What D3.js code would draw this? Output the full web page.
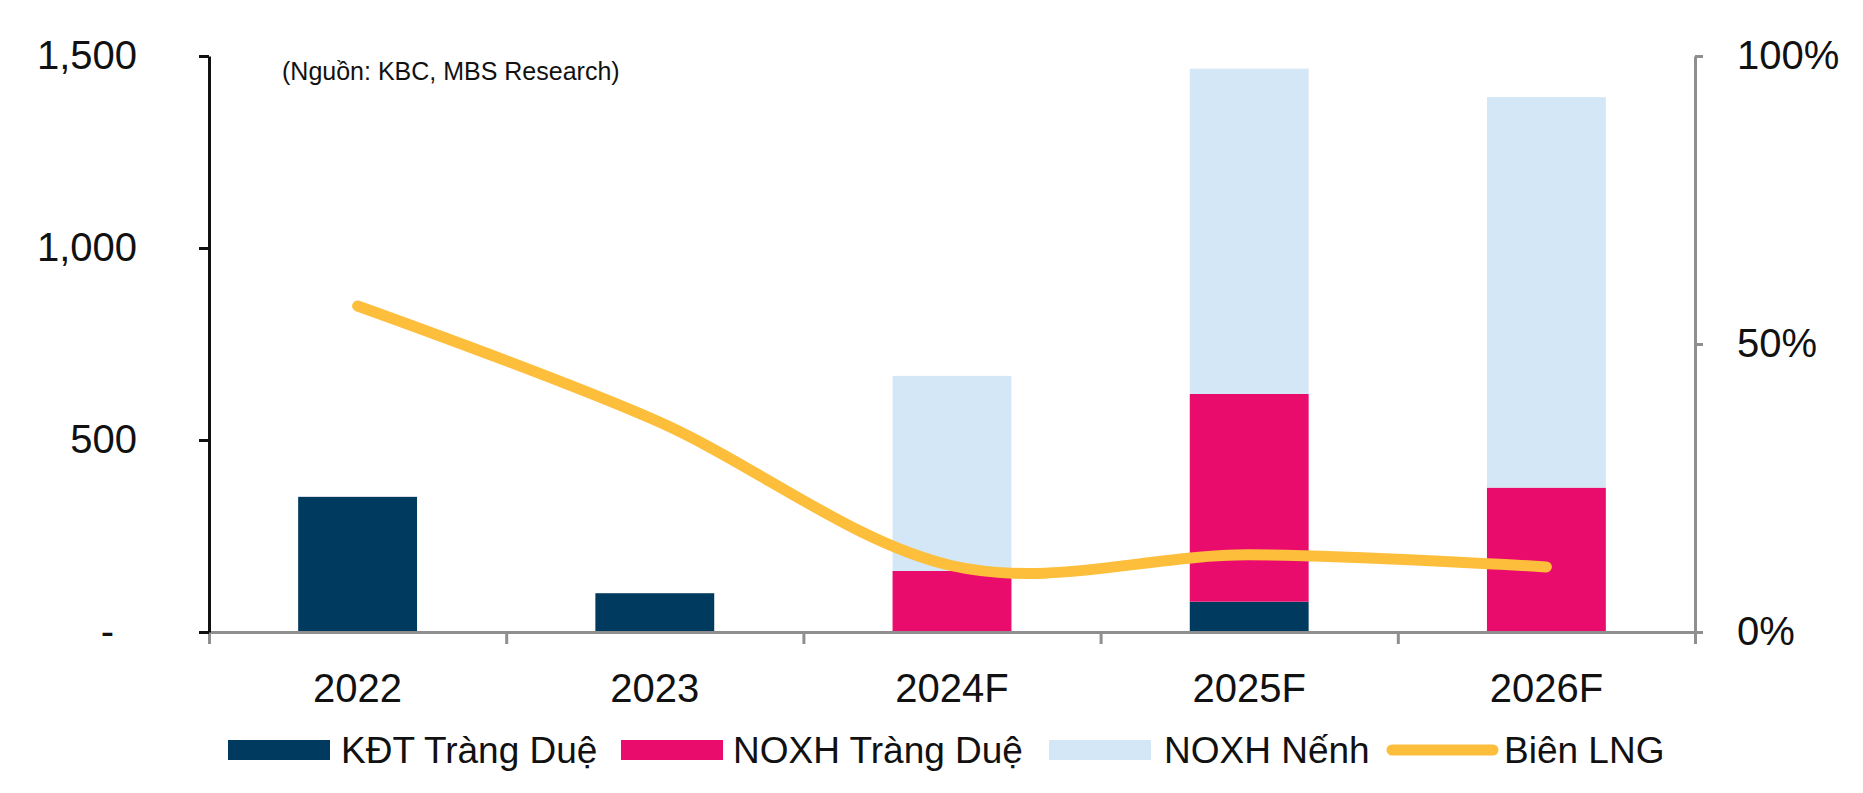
<!DOCTYPE html>
<html>
<head>
<meta charset="utf-8">
<script src="https://cdn.jsdelivr.net/npm/d3@7"></script>
<style>
  html, body { margin: 0; padding: 0; background: #fff; }
  svg text { font-family: "Liberation Sans", Arial, sans-serif; fill: #111; }
</style>
</head>
<body>
<svg id="chart" width="1863" height="793"></svg>
<script>
const categories = ["2022", "2023", "2024F", "2025F", "2026F"];
const kdtTrangDue = [352, 101, 0, 79, 0];
const noxhTrangDue = [0, 0, 159, 541, 376];
const noxhNenh = [0, 0, 508, 847, 1017];
const bienLNG = [56.6, 36.8, 11.5, 13.4, 11.3];
const leftTicks = [0, 500, 1000, 1500];
const rightTicks = [0, 50, 100];
const seriesNames = ["KĐT Tràng Duệ", "NOXH Tràng Duệ", "NOXH Nếnh", "Biên LNG"];
const sourceNote = "(Nguồn: KBC, MBS Research)";

const colors = ["#003B5F", "#EA0C6D", "#D3E7F6", "#FDBE3C"];

const svg = d3.select("#chart");
const plotL = 209, plotR = 1695, plotT = 56, plotB = 632;

const x = d3.scaleBand().domain(categories).range([plotL, plotR]).paddingInner(0.6).paddingOuter(0.3);
const y = d3.scaleLinear().domain([0, 1500]).range([plotB, plotT]);
const y2 = d3.scaleLinear().domain([0, 100]).range([plotB, plotT]);

const rows = categories.map((c, i) => ({ cat: c, k: kdtTrangDue[i], t: noxhTrangDue[i], n: noxhNenh[i] }));
const stack = d3.stack().keys(["k", "t", "n"])(rows);

// bars
svg.append("g").selectAll("g").data(stack).join("g")
  .attr("fill", (d, i) => colors[i])
  .selectAll("rect").data(d => d).join("rect")
  .attr("x", d => x(d.data.cat))
  .attr("width", x.bandwidth())
  .attr("y", d => y(d[1]))
  .attr("height", d => y(d[0]) - y(d[1]));

// bottom axis: boundary ticks
const xb = d3.scaleLinear().domain([0, categories.length]).range([plotL, plotR]);
const gB = svg.append("g").attr("transform", `translate(0,${plotB})`)
  .call(d3.axisBottom(xb).tickValues(d3.range(categories.length + 1)).tickFormat("").tickSize(12).tickSizeOuter(0));
gB.select(".domain").attr("stroke", "#8f8f8f").attr("stroke-width", 3);
gB.selectAll(".tick line").attr("stroke", "#8f8f8f").attr("stroke-width", 3);

// category labels
const gX = svg.append("g").attr("transform", `translate(0,${plotB})`)
  .call(d3.axisBottom(x).tickSize(0).tickPadding(42));
gX.select(".domain").remove();
gX.selectAll("text").attr("font-size", 40).attr("fill", "#111");

// left axis
const gL = svg.append("g").attr("transform", `translate(${plotL},0)`)
  .call(d3.axisLeft(y).tickValues(leftTicks).tickSize(10).tickSizeOuter(0).tickPadding(62)
    .tickFormat(d => d === 0 ? "-" : d3.format(",")(d)));
gL.select(".domain").attr("stroke", "#111").attr("stroke-width", 3);
gL.selectAll(".tick line").attr("stroke", "#111").attr("stroke-width", 3);
gL.selectAll("text").attr("font-size", 40).attr("fill", "#111")
  .attr("dx", d => d === 0 ? -23 : 0);

// right axis
const gR = svg.append("g").attr("transform", `translate(${plotR},0)`)
  .call(d3.axisRight(y2).tickValues(rightTicks).tickSize(8).tickSizeOuter(0).tickPadding(34)
    .tickFormat(d => d + "%"));
gR.select(".domain").attr("stroke", "#8f8f8f").attr("stroke-width", 3);
gR.selectAll(".tick line").attr("stroke", "#8f8f8f").attr("stroke-width", 3);
gR.selectAll("text").attr("font-size", 40).attr("fill", "#111");

// line
const line = d3.line()
  .x((d, i) => x(categories[i]) + x.bandwidth() / 2)
  .y(d => y2(d))
  .curve(d3.curveCardinal.tension(0));
svg.append("path").datum(bienLNG)
  .attr("d", line)
  .attr("fill", "none")
  .attr("stroke", colors[3])
  .attr("stroke-width", 11)
  .attr("stroke-linecap", "round")
  .attr("stroke-linejoin", "round");

// source note
svg.append("text").attr("x", 282).attr("y", 80).attr("font-size", 25).text(sourceNote);

// legend
const lg = svg.append("g");
const ly = 750;
const swatchX = [228, 621, 1049, 1387];
const textX = [341, 733, 1164, 1504];
seriesNames.forEach((name, i) => {
  if (i < 3) {
    lg.append("rect").attr("x", swatchX[i]).attr("y", ly - 10).attr("width", 102).attr("height", 20).attr("fill", colors[i]);
  } else {
    lg.append("line").attr("x1", swatchX[i] + 5).attr("x2", swatchX[i] + 106).attr("y1", ly).attr("y2", ly)
      .attr("stroke", colors[i]).attr("stroke-width", 11).attr("stroke-linecap", "round");
  }
  lg.append("text").attr("x", textX[i]).attr("y", ly).attr("dy", "0.36em").attr("font-size", 37).text(name);
});
</script>
</body>
</html>
